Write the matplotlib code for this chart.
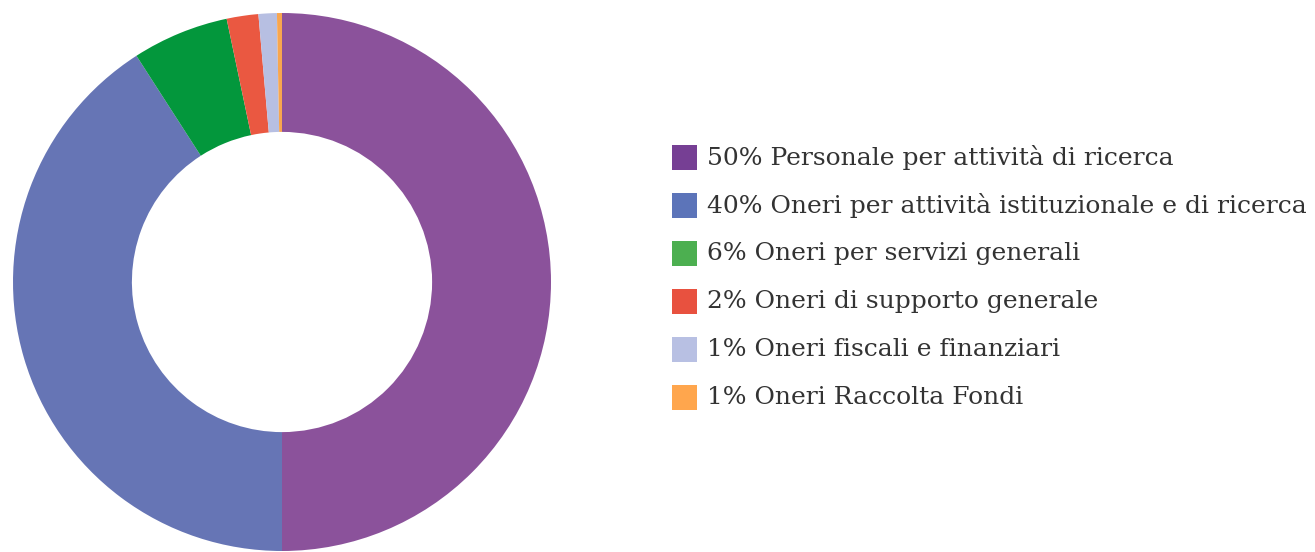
import matplotlib
matplotlib.use("Agg")
import matplotlib.pyplot as plt
from matplotlib.patches import Rectangle

labels = ["Personale per attività di ricerca",
          "Oneri per attività istituzionale e di ricerca",
          "Oneri per servizi generali",
          "Oneri di supporto generale",
          "Oneri fiscali e finanziari",
          "Oneri Raccolta Fondi"]
values = [50.0, 40.9, 5.8, 1.9, 1.1, 0.3]
pct_text = ["50%", "40%", "6%", "2%", "1%", "1%"]
pie_colors = ["#8B529B", "#6675B5", "#03973C", "#EA5841", "#B7BFE2", "#F8A64F"]
legend_colors = ["#763F94", "#5C74B9", "#4CAF50", "#E8513F", "#B8C0E3", "#FFA64D"]

W, H = 1315, 552
fig = plt.figure(figsize=(W / 100, H / 100), dpi=100)

ax = fig.add_axes([13 / W, 1 / H, 538 / W, 538 / H])
ax.pie(values, colors=pie_colors, startangle=90, counterclock=False,
       radius=1, wedgeprops=dict(width=0.442, linewidth=0))
ax.set_xlim(-1, 1)
ax.set_ylim(-1, 1)
ax.set_aspect("equal")
ax.axis("off")

# legend drawn by hand
y0, dy = 157, 48
for i, (lab, p, c) in enumerate(zip(labels, pct_text, legend_colors)):
    yc = y0 + i * dy
    fig.patches.append(Rectangle((672 / W, 1 - (yc + 12.5) / H), 25 / W, 25 / H,
                                 transform=fig.transFigure, color=c, linewidth=0))
    fig.text(707 / W, 1 - (yc - 2) / H, f"{p} {lab}", fontsize=18, family="DejaVu Serif",
             color="#333333", va="center_baseline", ha="left")

fig.savefig("out.png", dpi=100)
